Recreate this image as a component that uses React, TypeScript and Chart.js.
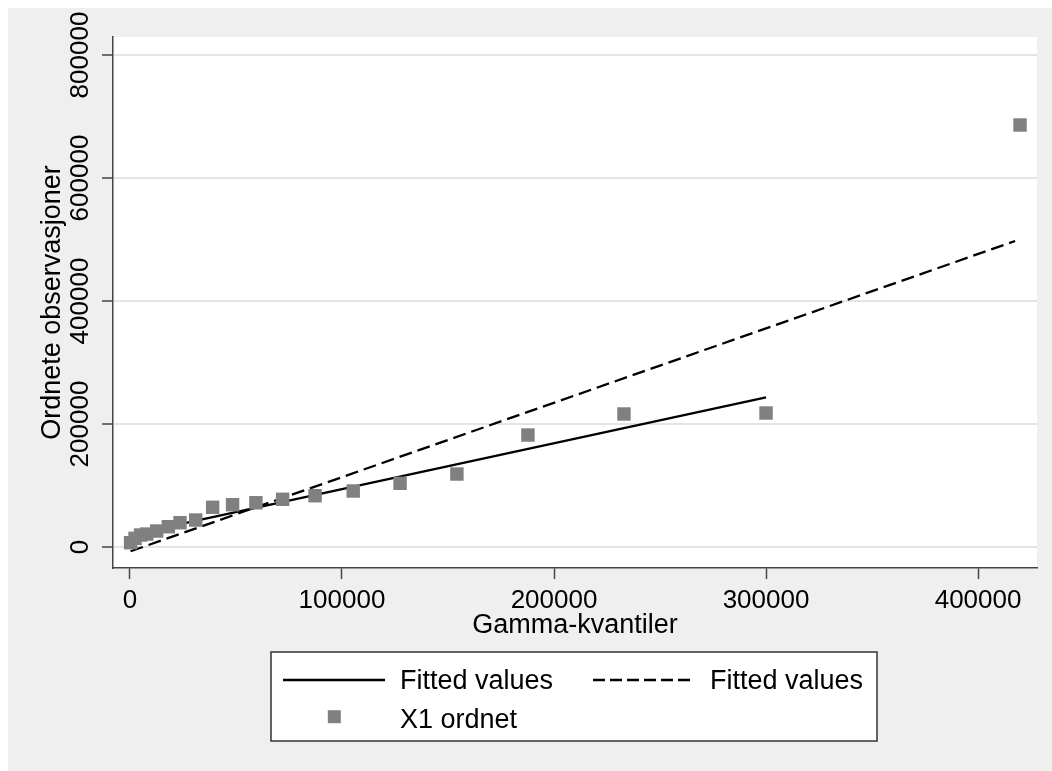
import React, { useEffect, useRef } from "react";
import { Chart, registerables } from "chart.js";

Chart.register(...registerables);

// Gamma quantiles (x) and ordered observations (y)
const quantiles = [300, 2400, 5000, 7900, 12600, 18100, 23600, 31000, 39000, 48400, 59400, 72000, 87300, 105300, 127400, 154200, 187700, 233000, 300000, 419800];
const ordered = [7000, 14100, 19500, 21100, 26000, 33000, 39500, 43900, 64600, 68800, 72000, 77600, 83400, 91100, 103600, 118700, 182100, 216300, 217900, 686200];

// Fitted lines (endpoints)
const fitSolidX = [300, 300000];
const fitSolidY = [19700, 243200];
const fitDashedX = [300, 417500];
const fitDashedY = [-6900, 497600];

const xTicks = [0, 100000, 200000, 300000, 400000];
const yTicks = [0, 200000, 400000, 600000, 800000];
const xTitle = "Gamma-kvantiler";
const yTitle = "Ordnete observasjoner";
const legendLabels = ["Fitted values", "Fitted values", "X1 ordnet"];

const FONT = '"Liberation Sans", Arial, Helvetica, sans-serif';
const BG = "#efefef";
const AXIS = "#444444";
const GRID = "#e4e4e4";
const POINT = "#808080";

export default function App() {
  const ref = useRef<HTMLCanvasElement | null>(null);

  useEffect(() => {
    if (!ref.current) return;

    const bgPlugin = {
      id: "bg",
      beforeDraw(chart: any) {
        const { ctx, chartArea } = chart;
        ctx.save();
        ctx.fillStyle = BG;
        ctx.fillRect(0, 0, chart.width, chart.height);
        ctx.fillStyle = "#ffffff";
        ctx.fillRect(chartArea.left, chartArea.top, chartArea.right - chartArea.left, chartArea.bottom - chartArea.top);
        ctx.restore();
      },
    };

    const yLabelPlugin = {
      id: "ylabels",
      afterDraw(chart: any) {
        const { ctx } = chart;
        const ys = chart.scales.y;
        ctx.save();
        ctx.fillStyle = "#000";
        ctx.font = `26px ${FONT}`;
        ctx.textAlign = "center";
        ctx.textBaseline = "middle";
        for (const v of yTicks) {
          const py = ys.getPixelForValue(v);
          ctx.save();
          ctx.translate(73, py);
          ctx.rotate(-Math.PI / 2);
          ctx.fillText(String(v), 0, 0);
          ctx.restore();
        }
        ctx.restore();
      },
    };

    const legendPlugin = {
      id: "customLegend",
      afterDraw(chart: any) {
        const { ctx } = chart;
        ctx.save();
        // box
        ctx.fillStyle = "#ffffff";
        ctx.fillRect(263, 644, 606, 89);
        ctx.strokeStyle = "#333";
        ctx.lineWidth = 1.5;
        ctx.strokeRect(263, 644, 606, 89);
        // samples
        ctx.strokeStyle = "#000";
        ctx.lineWidth = 2.3;
        ctx.beginPath();
        ctx.moveTo(275, 672);
        ctx.lineTo(377, 672);
        ctx.stroke();
        ctx.setLineDash([12, 5]);
        ctx.beginPath();
        ctx.moveTo(585, 672);
        ctx.lineTo(687, 672);
        ctx.stroke();
        ctx.setLineDash([]);
        ctx.fillStyle = POINT;
        ctx.fillRect(326.3 - 6.5, 708.7 - 6.5, 13, 13);
        // texts
        ctx.fillStyle = "#000";
        ctx.font = `27px ${FONT}`;
        ctx.textAlign = "left";
        ctx.textBaseline = "alphabetic";
        ctx.fillText(legendLabels[0], 392, 681);
        ctx.fillText(legendLabels[1], 702, 681);
        ctx.fillText(legendLabels[2], 392, 720);
        ctx.restore();
      },
    };

    const chart = new Chart(ref.current, {
      type: "scatter",
      data: {
        datasets: [
          {
            label: legendLabels[0],
            data: fitSolidX.map((x, i) => ({ x, y: fitSolidY[i] })),
            showLine: true,
            borderColor: "#000",
            borderWidth: 2.3,
            pointRadius: 0,
            order: 1,
          },
          {
            label: legendLabels[1],
            data: fitDashedX.map((x, i) => ({ x, y: fitDashedY[i] })),
            showLine: true,
            borderColor: "#000",
            borderWidth: 2.3,
            borderDash: [13, 6],
            pointRadius: 0,
            order: 1,
          },
          {
            label: legendLabels[2],
            data: quantiles.map((x, i) => ({ x, y: ordered[i] })),
            pointStyle: "rect",
            pointRadius: 9.5,
            backgroundColor: POINT,
            borderWidth: 0,
            order: 0,
          },
        ],
      },
      options: {
        animation: false,
        responsive: false,
        devicePixelRatio: 1,
        layout: { padding: { left: 0, top: 29, right: 15, bottom: 123 } },
        plugins: {
          legend: { display: false },
          tooltip: { enabled: false },
        },
        scales: {
          x: {
            type: "linear",
            min: -8000,
            max: 427800,
            afterBuildTicks: (s: any) => {
              s.ticks = xTicks.map((v) => ({ value: v }));
            },
            afterFit: (s: any) => {
              s.height = 80;
            },
            ticks: {
              color: "#000",
              font: { family: FONT, size: 26 },
              padding: 6,
              maxRotation: 0,
              callback: (v: any) => String(v),
            },
            grid: {
              drawOnChartArea: false,
              drawTicks: true,
              tickLength: 11,
              tickColor: AXIS,
              tickWidth: 1.5,
            },
            border: { display: true, color: AXIS, width: 1.5 },
            title: {
              display: true,
              text: xTitle,
              color: "#000",
              font: { family: FONT, size: 27 },
              padding: { top: 0, bottom: 6 },
            },
          },
          y: {
            type: "linear",
            min: -34100,
            max: 829300,
            afterBuildTicks: (s: any) => {
              s.ticks = yTicks.map((v) => ({ value: v }));
            },
            afterFit: (s: any) => {
              s.width = 105;
            },
            ticks: { display: false },
            grid: {
              color: GRID,
              lineWidth: 2,
              drawTicks: true,
              tickLength: 11,
              tickColor: AXIS,
              tickWidth: 1.5,
            },
            border: { display: true, color: AXIS, width: 1.5 },
            title: {
              display: true,
              text: yTitle,
              color: "#000",
              font: { family: FONT, size: 27 },
              padding: { top: 28, bottom: 0 },
            },
          },
        },
      },
      plugins: [bgPlugin, yLabelPlugin, legendPlugin],
    } as any);

    return () => chart.destroy();
  }, []);

  return (
    <div style={{ position: "fixed", left: 8, top: 8, width: 1044, height: 763 }}>
      <canvas ref={ref} width={1044} height={763} style={{ display: "block", width: 1044, height: 763 }} />
    </div>
  );
}
